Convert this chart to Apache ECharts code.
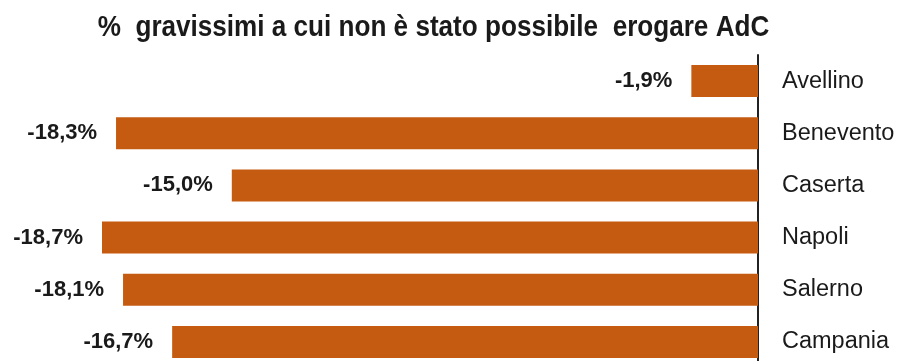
<!DOCTYPE html>
<html>
<head>
<meta charset="utf-8">
<script src="https://cdn.jsdelivr.net/npm/echarts@6/dist/echarts.min.js"></script>
<style>html,body{margin:0;padding:0;background:#fff;overflow:hidden}#c{width:900px;height:372px}</style>
</head>
<body>
<div id="c"></div>
<script>
var titleText = '%  gravissimi a cui non è stato possibile  erogare AdC';
var categories = ['Avellino', 'Benevento', 'Caserta', 'Napoli', 'Salerno', 'Campania'];
var values = [-1.9, -18.3, -15.0, -18.7, -18.1, -16.7];

var FONT = 'Arial, "Liberation Sans", sans-serif';
var chart = echarts.init(document.getElementById('c'), null, {renderer: 'canvas'});
chart.setOption({
  backgroundColor: '#ffffff',
  animation: false,
  graphic: [{
    type: 'text',
    x: 433.5,
    y: 13,
    scaleX: 0.87,
    style: {
      text: titleText,
      textAlign: 'center',
      textVerticalAlign: 'top',
      font: 'bold 30px Arial, "Liberation Sans", sans-serif',
      fill: '#1a1a1a'
    }
  }],
  grid: {left: 56.4, width: 701.6, top: 55, height: 313, containLabel: false},
  xAxis: {
    type: 'value', min: -20, max: 0,
    show: false
  },
  yAxis: {
    type: 'category',
    data: categories,
    inverse: true,
    position: 'right',
    axisLine: {show: true, lineStyle: {color: '#222', width: 2}},
    axisTick: {show: false},
    axisLabel: {margin: 24, fontFamily: FONT, fontSize: 23.5, color: '#1a1a1a'}
  },
  series: [{
    type: 'bar',
    data: values,
    barWidth: 32,
    itemStyle: {color: '#C55A11'},
    label: {
      show: true,
      position: 'left',
      distance: 19,
      fontFamily: FONT, fontSize: 22, fontWeight: 'bold', color: '#1a1a1a',
      formatter: function (p) { return p.value.toFixed(1).replace('.', ',') + '%'; }
    }
  }]
});
</script>
</body>
</html>
